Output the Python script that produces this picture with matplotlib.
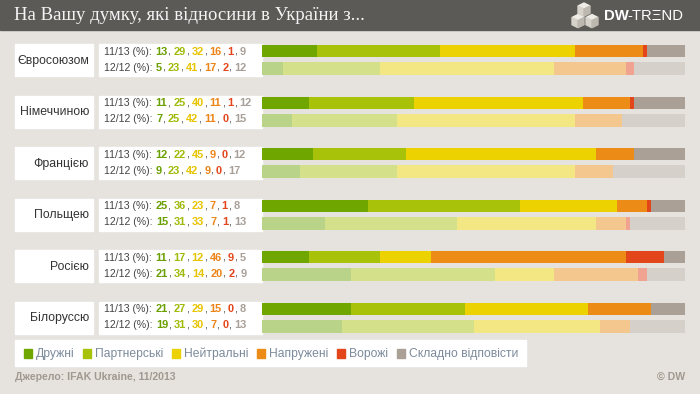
import numpy as np
import matplotlib as mpl
import matplotlib.pyplot as plt
from matplotlib.patches import Rectangle, Polygon

mpl.rcParams['font.family'] = ['Liberation Sans', 'DejaVu Sans']

# ---- data ----
countries = ['Євросоюзом', 'Німеччиною', 'Францією', 'Польщею', 'Росією', 'Білоруссю']
periods = ['11/13', '12/12']
vals_1113 = [[13, 29, 32, 16, 1, 9],
             [11, 25, 40, 11, 1, 12],
             [12, 22, 45, 9, 0, 12],
             [25, 36, 23, 7, 1, 8],
             [11, 17, 12, 46, 9, 5],
             [21, 27, 29, 15, 0, 8]]
vals_1212 = [[5, 23, 41, 17, 2, 12],
             [7, 25, 42, 11, 0, 15],
             [9, 23, 42, 9, 0, 17],
             [15, 31, 33, 7, 1, 13],
             [21, 34, 14, 20, 2, 9],
             [19, 31, 30, 7, 0, 13]]
categories = ['Дружні', 'Партнерські', 'Нейтральні', 'Напружені', 'Ворожі', 'Складно відповісти']

title = 'На Вашу думку, які відносини в України з...'
source = 'Джерело: IFAK Ukraine, 11/2013'

# ---- style ----
bg = '#e6e3df'
col_full = ['#6fa600', '#a8c20a', '#ecd200', '#ec8c17', '#e3461a', '#aaa096']
col_fade = ['#b9d388', '#d5e18a', '#f3e784', '#f4c78e', '#f0a390', '#d6d0ca']
col_num = ['#6a9f00', '#a0ba08', '#e8c400', '#ec8418', '#e3461a', '#a8a098']

W, H = 700, 394
fig = plt.figure(figsize=(W / 100, H / 100), dpi=100, facecolor=bg)
ax = fig.add_axes([0, 0, 1, 1])
ax.set_xlim(0, W)
ax.set_ylim(H, 0)
ax.axis('off')

# title bar
ax.add_patch(Rectangle((0, 0), W, 30, color='#5b5a57', zorder=1))
ax.text(14, 15.5, title, color='#f4f4f4', fontsize=13.5, va='center', ha='left',
        family='Liberation Serif', zorder=2)

# logo: three cubes
def cube(x0, y0, s):
    top = [(x0, y0 + s * 0.25), (x0 + s / 2, y0), (x0 + s, y0 + s * 0.25), (x0 + s / 2, y0 + s * 0.5)]
    left = [(x0, y0 + s * 0.25), (x0 + s / 2, y0 + s * 0.5), (x0 + s / 2, y0 + s * 1.1), (x0, y0 + s * 0.85)]
    right = [(x0 + s / 2, y0 + s * 0.5), (x0 + s, y0 + s * 0.25), (x0 + s, y0 + s * 0.85), (x0 + s / 2, y0 + s * 1.1)]
    for pts, c in [(top, '#eeece6'), (left, '#d6d2ca'), (right, '#bdb8af')]:
        ax.add_patch(Polygon(pts, closed=True, color=c, zorder=3))

cube(578, 3, 12)
cube(572, 14.5, 12)
cube(586, 14.5, 12)
ax.text(604, 16, 'DW', color='white', fontsize=10.7, fontweight='bold', va='center', ha='left', zorder=3)
ax.text(627, 16, '-TR\u039eND', color='white', fontsize=10.7, va='center', ha='left', zorder=3)

# bars axes: x in percent, y in pixels
bx = fig.add_axes([262 / W, 0, 423 / W, 1])
bx.set_xlim(0, 100)
bx.set_ylim(H, 0)
bx.axis('off')
bx.patch.set_alpha(0)

renderer = fig.canvas.get_renderer()

def text_width(s, **kw):
    t = ax.text(0, 0, s, **kw)
    w = t.get_window_extent(renderer=renderer).width
    t.remove()
    return w

fs = 7.6
fs_num = 7.9
em = fs * 100 / 72
em_num = fs_num * 100 / 72
# Liberation Sans advance widths (em units)
DIGIT, COMMA, SPACE = 0.556, 0.278, 0.278

for i, name in enumerate(countries):
    top = 45 + 51.6 * i
    # white boxes
    ax.add_patch(Rectangle((15, top - 1), 78, 32, color='white', zorder=1))
    ax.add_patch(Rectangle((99, top - 1), 163, 32, color='white', zorder=1))
    ax.text(89, top + 15.5, name, fontsize=8.8, color='#333333', ha='right', va='center', zorder=2)

    rows = [(vals_1113[i], col_full, top + 6, 12, top + 6.5),
            (vals_1212[i], col_fade, top + 23.5, 13, top + 22.5)]
    for (vals, cols, yc, h, ty), per in zip(rows, periods):
        left = np.concatenate([[0], np.cumsum(vals)[:-1]])
        bx.barh(yc, vals, left=left, height=h, color=cols, linewidth=0, zorder=2)

        # multi-coloured text line
        x = 104
        head = per + ' (%):'
        ax.text(x, ty, head, fontsize=fs, color='#444444', va='center', ha='left', zorder=2)
        x += text_width(head, fontsize=fs) + 0.6 + SPACE * em
        for k, v in enumerate(vals):
            s = str(v)
            ax.text(x, ty, s, fontsize=fs_num, color=col_num[k], fontweight='bold',
                    va='center', ha='left', zorder=2)
            x += len(s) * DIGIT * em_num
            if k < len(vals) - 1:
                ax.text(x, ty, ',', fontsize=fs, color='#444444', va='center', ha='left', zorder=2)
                x += (COMMA + SPACE) * em

# legend
ax.add_patch(Rectangle((15, 340), 511, 26, color='white', zorder=1))
leg_x = [24, 83, 172, 257, 337, 397]
for k, cat in enumerate(categories):
    ax.add_patch(Rectangle((leg_x[k], 348.5), 8, 9, color=col_full[k], zorder=2))
    ax.text(leg_x[k] + 12, 353.5, cat, fontsize=8.7, color='#7d8b9b', va='center', ha='left', zorder=2)

# footer
ax.text(15, 377, source, fontsize=7.6, fontweight='bold', color='#a19990', va='center', ha='left')
ax.text(685, 377, '\u00a9 DW', fontsize=7.6, fontweight='bold', color='#a19990', va='center', ha='right')

fig.savefig('out.png', dpi=100, facecolor=bg)
